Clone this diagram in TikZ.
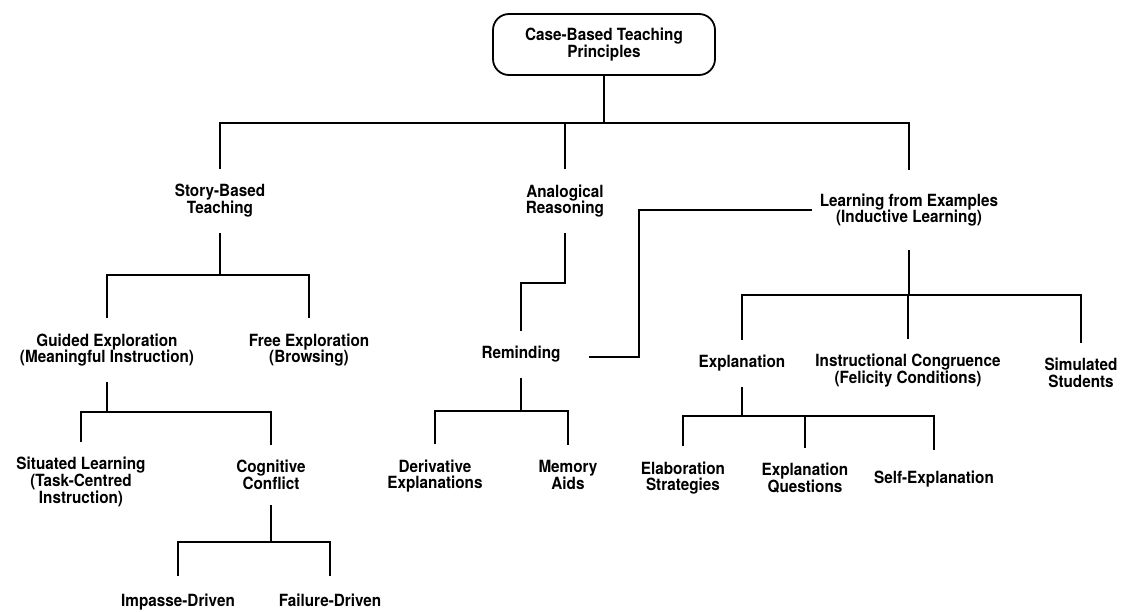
\documentclass[tikz,border=0pt]{standalone}
\usepackage{fontspec}
\setmainfont{TeX Gyre Heros}[FakeStretch=0.91]
\begin{document}
\begin{tikzpicture}[x=1pt,y=-1pt,
  lbl/.style={align=center, inner xsep=2pt, inner ysep=15pt,
    font=\fontsize{16.8}{16.8}\selectfont\bfseries},
  rootbox/.style={lbl, draw, line width=1.8pt, rounded corners=16pt,
    minimum width=222pt, minimum height=61pt, inner ysep=4pt},
  conn/.style={line width=1.8pt, line join=miter}]
\useasboundingbox (0,0) rectangle (1125,611);

% bar levels
\coordinate (bar0) at (0,123);
\coordinate (bar1) at (0,275);
\coordinate (bar2) at (0,412);
\coordinate (bar3) at (0,542);
\coordinate (bar4) at (0,283);
\coordinate (bar5) at (0,411);
\coordinate (bar6) at (0,295);
\coordinate (bar7) at (0,416);
\coordinate (lx) at (639,0);

% nodes
\node[rootbox] (root) at (604,44.5) {Case-Based Teaching\\Principles};

\node[lbl] (story)  at (220,201) {Story-Based\\Teaching};
\node[lbl] (analog) at (565,201) {Analogical\\Reasoning};
\node[lbl, inner ysep=23.5pt] (learn) at (909,210) {Learning from Examples\\(Inductive Learning)};

\node[lbl] (guided) at (107,350) {Guided Exploration\\(Meaningful Instruction)};
\node[lbl] (free)   at (309,350) {Free Exploration\\(Browsing)};

\node[lbl] (situated)  at (81,482)  {Situated Learning\\(Task-Centred\\Instruction)};
\node[lbl] (cognitive) at (271,475) {Cognitive\\Conflict};

\node[lbl, inner ysep=17pt, anchor=base] (impasse) at (178,606) {Impasse-Driven};
\node[lbl, inner ysep=17pt, anchor=base] (failure) at (330,606) {Failure-Driven};

\node[lbl] (remind)     at (521,354.5) {Reminding};
\node[lbl] (derivative) at (435,476) {Derivative\\Explanations};
\node[lbl] (memory)     at (568,475) {Memory\\Aids};

\node[lbl] (explan)    at (742,363.5) {Explanation};
\node[lbl] (instr)     at (908,370.5) {Instructional Congruence\\(Felicity Conditions)};
\node[lbl] (simulated) at (1081,373)  {Simulated\\Students};

\node[lbl] (elab) at (683,478) {Elaboration\\Strategies};
\node[lbl] (expq) at (805,478) {Explanation\\Questions};
\node[lbl, inner ysep=21pt] (self) at (934,479.5) {Self-Explanation};

% connectors
\draw[conn] (root.south) -- (root.south |- bar0);
\draw[conn] (story.north) -- (story.north |- bar0) -- (learn.north |- bar0) -- (learn.north);
\draw[conn] (analog.north) -- (analog.north |- bar0);

\draw[conn] (story.south) -- (story.south |- bar1);
\draw[conn] (guided.north) -- (guided.north |- bar1) -- (free.north |- bar1) -- (free.north);

\draw[conn] (guided.south) -- (guided.south |- bar2);
\draw[conn] (situated.north) -- (situated.north |- bar2) -- (cognitive.north |- bar2) -- (cognitive.north);

\draw[conn] (cognitive.south) -- (cognitive.south |- bar3);
\draw[conn] (impasse.north) -- (impasse.north |- bar3) -- (failure.north |- bar3) -- (failure.north);

\draw[conn] (analog.south) -- (analog.south |- bar4) -- (remind.north |- bar4) -- (remind.north);

\draw[conn] (remind.south) -- (remind.south |- bar5);
\draw[conn] (derivative.north) -- (derivative.north |- bar5) -- (memory.north |- bar5) -- (memory.north);

\draw[conn] ([xshift=-6pt]learn.west) -- (lx |- learn.west) -- (lx |- 0,357) -- ([xshift=26pt]remind.east |- 0,357);

\draw[conn] (learn.south) -- (learn.south |- bar6);
\draw[conn] (explan.north) -- (explan.north |- bar6) -- (simulated.north |- bar6) -- (simulated.north);
\draw[conn] (instr.north) -- (instr.north |- bar6);

\draw[conn] (explan.south) -- (explan.south |- bar7);
\draw[conn] (elab.north) -- (elab.north |- bar7) -- (self.north |- bar7) -- (self.north);
\draw[conn] (expq.north) -- (expq.north |- bar7);
\end{tikzpicture}
\end{document}
